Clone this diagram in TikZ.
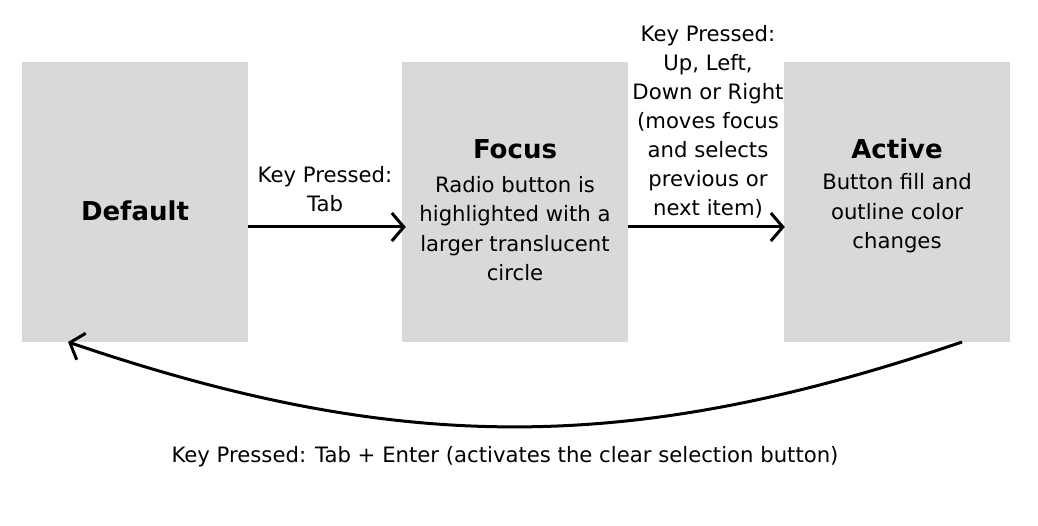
\documentclass[tikz,border=0pt]{standalone}
\usepackage{fontspec}
\setmainfont{DejaVu Sans}
\usetikzlibrary{arrows.meta}
\definecolor{boxgray}{HTML}{D9D9D9}
\tikzset{
  state/.style={fill=boxgray, draw=none, minimum width=226pt, minimum height=280pt, inner sep=0pt},
  title/.style={font=\fontsize{26}{30}\selectfont\bfseries, inner sep=0pt, anchor=base},
  body/.style={font=\fontsize{21.2}{29.5}\selectfont, align=center, inner sep=0pt, anchor=base},
  conn/.style={line width=3pt, -{Straight Barb[length=12pt,width=28pt,line width=3pt]}}
}
\begin{document}
\begin{tikzpicture}[x=1pt,y=-1pt]
\useasboundingbox[fill=white] (0,0) rectangle (1038,526);
\node[state] (default) at (135,202) {};
\node[state] (focus) at (515,202) {};
\node[state] (active) at (897,202) {};
\node[title] (tdefault) at (135,221) {Default};
\node[title] (tfocus) at (515,159) {Focus};
\node[body] (bfocus) at (515,281) {Radio button is\\highlighted with a\\larger translucent\\circle};
\node[title] (tactive) at (897,158.5) {Active};
\node[body] (bactive) at (897,249) {Button fill and\\outline color\\changes};
\node[body] (l1) at (325,212) {Key Pressed:\\Tab};
\node[body, font=\fontsize{21.2}{29}\selectfont] (l2) at (708,216) {Key Pressed:\\Up, Left,\\Down or Right\\(moves focus\\and selects\\previous or\\next item)};
\node[body] (l3) at (505,462) {Key Pressed: Tab + Enter (activates the clear selection button)};
\coordinate (s3) at (962,342);
\coordinate (e3) at (68,342);
\draw[conn] ([yshift=-25pt]default.east) -- ([yshift=-25pt,xshift=4pt]focus.west);
\draw[conn] ([yshift=-25pt]focus.east) -- ([yshift=-25pt,xshift=1pt]active.west);
\draw[conn] (s3) .. controls (630,455) and (400,455) .. (e3);
\end{tikzpicture}
\end{document}
